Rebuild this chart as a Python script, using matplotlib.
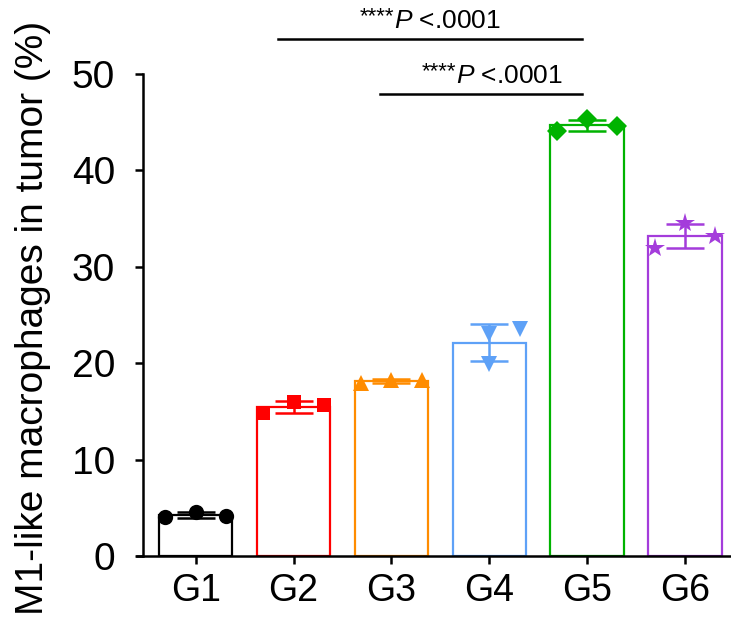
import matplotlib
matplotlib.use("Agg")
import matplotlib.pyplot as plt
import numpy as np

plt.rcParams["font.family"] = ["Liberation Sans", "DejaVu Sans"]
plt.rcParams["mathtext.fontset"] = "custom"
plt.rcParams["mathtext.rm"] = "Liberation Sans"
plt.rcParams["mathtext.it"] = "Liberation Sans:italic"

groups = ["G1", "G2", "G3", "G4", "G5", "G6"]
g1 = [4.0, 4.6, 4.1]
g2 = [14.8, 16.0, 15.7]
g3 = [17.9, 18.3, 18.3]
g4 = [23.0, 19.9, 23.5]
g5 = [44.1, 45.3, 44.6]
g6 = [32.0, 34.5, 33.2]
values = [g1, g2, g3, g4, g5, g6]

colors = ["black", "#ff0000", "#ff8c00", "#5ea1f7", "#00b300", "#a43cdb"]
markers = ["o", "s", "^", "v", "D", "*"]
msizes = [11, 10, 12, 12, 10, 15]
# horizontal spread of the dots inside each bar
offsets = [[-0.31, 0, 0.31], [-0.31, 0, 0.31], [-0.31, 0, 0.31],
           [0, 0, 0.31], [-0.31, 0, 0.31], [-0.31, 0, 0.31]]

fig = plt.figure(figsize=(7.31, 6.2), dpi=100)
ax = fig.add_axes([137/731, 1-556/620, 1-137/731, (556-74)/620])

x = np.arange(len(groups))
means = [np.mean(v) for v in values]
sds = [np.std(v, ddof=1) for v in values]

for i in range(len(groups)):
    ax.bar(x[i], means[i], width=0.75, facecolor="none", edgecolor=colors[i],
           linewidth=1.6, zorder=2)
    ax.errorbar(x[i], means[i], yerr=sds[i], color=colors[i], capsize=13.5,
                elinewidth=1.8, capthick=1.8, zorder=3)
    ax.plot(x[i] + np.array(offsets[i]), values[i], linestyle="none",
            marker=markers[i], color=colors[i], markersize=msizes[i],
            markeredgewidth=0, zorder=4, clip_on=False)

ax.set_xlim(-0.60, 5.47)
ax.set_ylim(0, 50)
ax.set_yticks([0, 10, 20, 30, 40, 50])
ax.set_xticks(x)
ax.set_xticklabels(groups)
ax.tick_params(axis="both", width=1.8, length=6, direction="out")
ax.tick_params(axis="x", labelsize=27, pad=6)
ax.tick_params(axis="y", labelsize=28, pad=14)
ax.spines["top"].set_visible(False)
ax.spines["right"].set_visible(False)
ax.spines["left"].set_position(("data", -0.54))
ax.spines["left"].set_linewidth(1.8)
ax.spines["bottom"].set_linewidth(1.8)

fig.text(33/731, 1-318/620, "M1-like macrophages in tumor (%)", rotation=90,
         fontsize=28, ha="center", va="center")

# significance brackets: small stars, then italic P
def sig(xp, yb):
    ax.text(xp, yb + 0.6, "****", fontsize=16, ha="right", va="baseline")
    ax.text(xp, yb, r"$\mathit{P}$ <.0001", fontsize=19, ha="left",
            va="baseline")

ax.plot([0.84, 3.95], [53.6, 53.6], color="black", linewidth=1.8, clip_on=False)
sig(2.03, 54.8)
ax.plot([1.88, 3.95], [47.9, 47.9], color="black", linewidth=1.8, clip_on=False)
sig(2.66, 49.1)

fig.savefig("out.png", dpi=100)
